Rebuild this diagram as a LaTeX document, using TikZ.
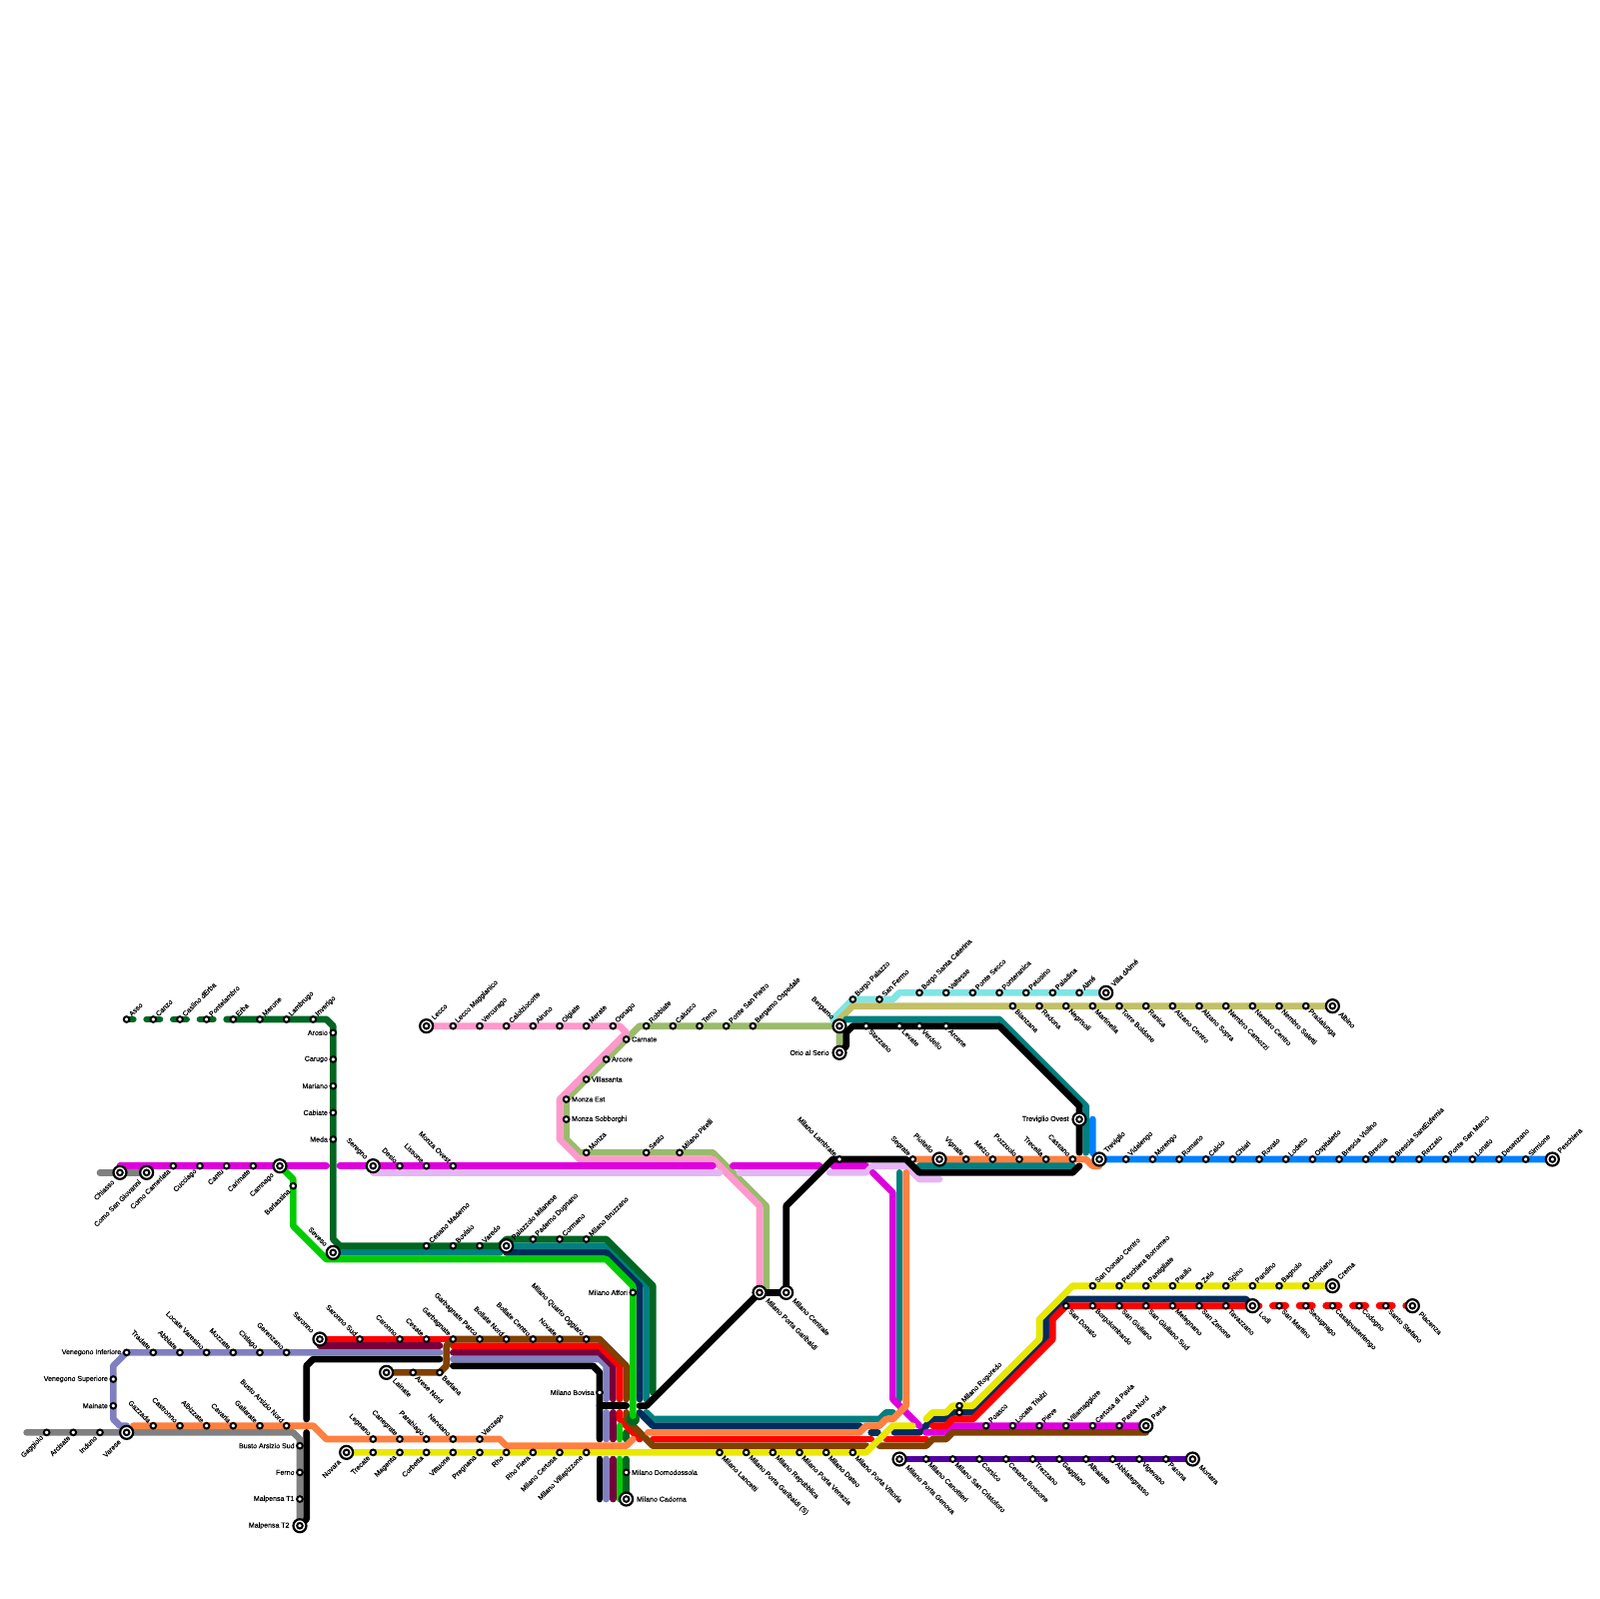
\documentclass[tikz,border=0pt]{standalone}
\usepackage{fontspec}
\setmainfont[FakeBold=0.5]{Liberation Sans}
\usetikzlibrary{backgrounds}
\definecolor{lnpink}{HTML}{FF99CC}
\definecolor{lnsage}{HTML}{9BBB6C}
\definecolor{lnmag}{HTML}{DD00DD}
\definecolor{lnlilac}{HTML}{E5B5F5}
\definecolor{lnforest}{HTML}{006622}
\definecolor{lnteal}{HTML}{008080}
\definecolor{lngreen}{HTML}{00CC00}
\definecolor{lngrey}{HTML}{808080}
\definecolor{lnperi}{HTML}{8080C0}
\definecolor{lnwine}{HTML}{77003C}
\definecolor{lnred}{HTML}{FF0000}
\definecolor{lnbrown}{HTML}{804000}
\definecolor{lnorange}{HTML}{FF8040}
\definecolor{lnyellow}{HTML}{E8E800}
\definecolor{lnnavy}{HTML}{002D5C}
\definecolor{lnblue}{HTML}{0080FF}
\definecolor{lnkhaki}{HTML}{C2C066}
\definecolor{lncyan}{HTML}{80E5E5}
\definecolor{lnviolet}{HTML}{5000A0}
\begin{document}
\begin{tikzpicture}[
    x=1mm, y=-1mm,
    every node/.style={font=\fontsize{3}{3.6}\selectfont, inner sep=0pt},
    route/.style={line width=1mm, line cap=round, line join=round},
    stn/.style={circle, draw=black, fill=white, line width=.3mm, minimum size=.85mm},
    hub/.style={circle, draw=black, fill=white, line width=.33mm, minimum size=1.95mm,
        path picture={\draw[line width=.3mm] (path picture bounding box.center) circle (.42mm);}},
    lblne/.style={xshift=.5mm, yshift=.6mm, rotate=45, anchor=west},
    lblse/.style={xshift=.5mm, yshift=-.6mm, rotate=-45, anchor=west},
    lblsw/.style={xshift=-.6mm, yshift=-.6mm, rotate=45, anchor=east},
    lblnw/.style={xshift=-.5mm, yshift=.6mm, rotate=-45, anchor=east},
    lble/.style={anchor=west, xshift=.75mm},
    lblw/.style={anchor=east, xshift=-.75mm},
    hlblne/.style={xshift=.9mm, yshift=1.1mm, rotate=45, anchor=west},
    hlblse/.style={xshift=1.1mm, yshift=-1mm, rotate=-45, anchor=west},
    hlblsw/.style={xshift=-1mm, yshift=-1.2mm, rotate=45, anchor=east},
    hlblnw/.style={xshift=-1mm, yshift=1.1mm, rotate=-45, anchor=east},
    hlble/.style={anchor=west, xshift=1.5mm},
    hlblw/.style={anchor=east, xshift=-1.5mm}
]
\useasboundingbox (0,0) rectangle (240,240);
% --- Interchanges
\foreach \nm/\x/\y/\dir/\lab in {
    chiasso/18/176/sw/Chiasso, comosg/22/176/sw/Como San Giovanni, camnago/42/175/sw/Camnago,
    seregno/56/175/nw/Seregno, seveso/50/188/nw/Seveso, palazzolo/76/187/ne/Palazzolo Milanese,
    lecco/64/154/ne/Lecco, bergamo/126/154/nw/Bergamo, orio/126/158/w/Orio al Serio,
    villa/166/149/ne/Villa dAlmé, albino/200/151/se/Albino, trevovest/162/168/w/Treviglio Ovest,
    pioltello/141/174/nw/Pioltello, treviglio/165/174/ne/Treviglio, peschiera/233/174/ne/Peschiera,
    garibaldi/114/194/se/Milano Porta Garibaldi, centrale/118/194/se/Milano Centrale,
    saronno/48/201/nw/Saronno, lainate/58/206/se/Lainate, varese/19/215/sw/Varese,
    malpt/45/229/w/Malpensa T2, novara/52/218/sw/Novara, cadorna/94/225/e/Milano Cadorna,
    crema/200/193/ne/Crema, lodi/188/196/se/Lodi, piacenza/212/196/se/Piacenza,
    pavia/172/214/ne/Pavia, genova/135/219/se/Milano Porta Genova, mortara/179/219/se/Mortara} {
  \node[hub] (\nm) at (\x,\y) {};
  \node[hlbl\dir] (\nm-l) at (\nm.center) {\lab};
}
% --- Stations
\foreach \nm/\x/\y/\dir/\lab in {
    asso/19/153/ne/Asso, canzo/23/153/ne/Canzo, caslino/27/153/ne/Caslino dErba,
    pontelambro/31/153/ne/Pontelambro, erba/35/153/ne/Erba, merone/39/153/ne/Merone,
    lambrugo/43/153/ne/Lambrugo, inverigo/47/153/ne/Inverigo,
    arosio/50/155/w/Arosio, carugo/50/159/w/Carugo, mariano/50/163/w/Mariano,
    cabiate/50/167/w/Cabiate, meda/50/171/w/Meda,
    camerlata/26/175/sw/Como Camerlata, cucciago/30/175/sw/Cucciago, cantu/34/175/sw/Cantu,
    carimate/38/175/sw/Carimate, barlassina/44/178/sw/Barlassina,
    desio/60/175/nw/Desio, lissone/64/175/nw/Lissone, monzaov/68/175/nw/Monza Ovest,
    cesano/64/187/ne/Cesano Maderno, bovisio/68/187/ne/Bovisio, varedo/72/187/ne/Varedo,
    paderno/80/186/ne/Paderno Dugnano, cormano/84/186/ne/Cormano, bruzzano/88/186/ne/Milano Bruzzano,
    maggianico/68/154/ne/Lecco Maggianico, vercurago/72/154/ne/Vercurago,
    calolzio/76/154/ne/Calolziocorte, airuno/80/154/ne/Airuno, olgiate/84/154/ne/Olgiate,
    merate/88/154/ne/Merate, osnago/92/154/ne/Osnago,
    robbiate/97/154/ne/Robbiate, calusco/101/154/ne/Calusco, terno/105/154/ne/Terno,
    pontesp/109/154/ne/Ponte San Pietro, ospedale/113/154/ne/Bergamo Ospedale,
    carnate/94/156/e/Carnate, arcore/91/159/e/Arcore, villasanta/88/162/e/Villasanta,
    monzaest/85/165/e/Monza Est, sobborghi/85/168/e/Monza Sobborghi,
    monza/88/173/ne/Monza, sesto/97/173/ne/Sesto, pirelli/102/173/ne/Milano Pirelli,
    palazzo/128/150/ne/Borgo Palazzo, fermo/132/150/ne/San Fermo, caterina/138/149/ne/Borgo Santa Caterina,
    valtesse/142/149/ne/Valtesse, pontesecco/146/149/ne/Ponte Secco, ponteranica/150/149/ne/Ponteranica,
    petosino/154/149/ne/Petosino, paladina/158/149/ne/Paladina, alme/162/149/ne/Almé,
    bianzana/152/151/se/Bianzana, redona/156/151/se/Redona, negrisoli/160/151/se/Negrisoli,
    martinella/164/151/se/Martinella, boldone/168/151/se/Torre Boldone, ranica/172/151/se/Ranica,
    alzanoc/176/151/se/Alzano Centro, alzanos/180/151/se/Alzano Sopra, camozzi/184/151/se/Nembro Camozzi,
    nembroc/188/151/se/Nembro Centro, saletti/192/151/se/Nembro Saletti, pradalunga/196/151/se/Pradalunga,
    stezzano/130/154/se/Stezzano, levate/135/154/se/Levate, verdello/138/154/se/Verdello, arcene/142/154/se/Arcene,
    lambrate/126/174/nw/Milano Lambrate, segrate/137/174/nw/Segrate, vignate/145/174/nw/Vignate,
    melzo/149/174/nw/Melzo, pozzuolo/153/174/nw/Pozzuolo, trecella/157/174/nw/Trecella, cassano/161/174/nw/Cassano,
    vidalengo/169/174/ne/Vidalengo, morengo/173/174/ne/Morengo, romano/177/174/ne/Romano,
    calcio/181/174/ne/Calcio, chiari/185/174/ne/Chiari, rovato/189/174/ne/Rovato,
    lodetto/193/174/ne/Lodetto, ospitaletto/197/174/ne/Ospitaletto, violino/201/174/ne/Brescia Violino,
    brescia/205/174/ne/Brescia, eufemia/209/174/ne/Brescia SantEufemia, rezzato/213/174/ne/Rezzato,
    pontesm/217/174/ne/Ponte San Marco, lonato/221/174/ne/Lonato, desenzano/225/174/ne/Desenzano,
    sirmione/229/174/ne/Sirmione,
    affori/95/194/w/Milano Affori, bovisa/90/209/w/Milano Bovisa,
    domodossola/94/221/e/Milano Domodossola,
    lancetti/108/218/se/Milano Lancetti, garibaldis/112/218/se/Milano Porta Garibaldi (S),
    repubblica/116/218/se/Milano Repubblica, venezia/120/218/se/Milano Porta Venezia,
    dateo/124/218/se/Milano Dateo, vittoria/128/218/se/Milano Porta Vittoria,
    vinf/19/203/w/Venegono Inferiore, vsup/17/207/w/Venegono Superiore, mainate/17/211/w/Mainate,
    tradate/23/203/nw/Tradate, abbiate/27/203/nw/Abbiate, locatev/31/203/nw/Locate Varesino,
    mozzate/35/203/nw/Mozzate, cislago/39/203/nw/Cislago, gerenzano/43/203/nw/Gerenzano,
    saronnos/54/201/nw/Saronno Sud, caronno/60/201/nw/Caronno, cesate/64/201/nw/Cesate,
    garbagnate/68/201/nw/Garbagnate, garbparco/72/201/nw/Garbagnate Parco, bollaten/76/201/nw/Bollate Nord,
    bollatec/80/201/nw/Bollate Centro, novate/84/201/nw/Novate, quarto/88/201/nw/Milano Quarto Oggiaro,
    arese/62/206/se/Arese Nord, barlana/66/206/se/Barlana,
    gazzada/23/214/nw/Gazzada, castronno/27/214/nw/Castronno, albizzate/31/214/nw/Albizzate,
    cavaria/35/214/nw/Cavaria, gallarate/39/214/nw/Gallarate, bustonord/43/214/nw/Busto Arsizio Nord,
    gaggiolo/7/215/sw/Gaggiolo, arcisate/11/215/sw/Arcisate, induno/15/215/sw/Induno,
    bustosud/45/217/w/Busto Arsizio Sud, ferno/45/221/w/Ferno, malpo/45/225/w/Malpensa T1,
    legnano/56/216/nw/Legnano, canegrate/60/216/nw/Canegrate, parabiago/64/216/nw/Parabiago,
    nerviano/68/216/nw/Nerviano, vanzago/72/216/ne/Vanzago,
    trecate/56/218/sw/Trecate, magenta/60/218/sw/Magenta, corbetta/64/218/sw/Corbetta,
    vittuone/68/218/sw/Vittuone, pregnana/72/218/sw/Pregnana, rho/76/218/sw/Rho,
    rhofiera/80/218/sw/Rho Fiera, certosa/84/218/sw/Milano Certosa, villapizzone/88/218/sw/Milano Villapizzone,
    rogoredo/144/211/ne/Milano Rogoredo,
    poasco/148/214/ne/Poasco, locatet/152/214/ne/Locate Triulzi, pieve/156/214/ne/Pieve,
    villamag/160/214/ne/Villamaggiore, certpavia/164/214/ne/Certosa di Pavia, pavianord/168/214/ne/Pavia Nord,
    canottieri/139/219/se/Milano Canottieri, cristoforo/143/219/se/Milano San Cristoforo,
    corsico/147/219/se/Corsico, boscone/151/219/se/Cesano Boscone, trezzano/155/219/se/Trezzano,
    gaggiano/159/219/se/Gaggiano, albairate/163/219/se/Albairate, abbiate2/167/219/se/Abbiategrasso,
    vigevano/171/219/se/Vigevano, parona/175/219/se/Parona,
    sandonato/160/196/se/San Donato, borgolomb/164/196/se/Borgolombardo, giuliano/168/196/se/San Giuliano,
    giulianos/172/196/se/San Giuliano Sud, melegnano/176/196/se/Melegnano, zenone/180/196/se/San Zenone,
    tavazzano/184/196/se/Tavazzano, martino/192/196/se/San Martino, secugnago/196/196/se/Secugnago,
    casal/200/196/se/Casalpusterlengo, codogno/204/196/se/Codogno, stefano/208/196/se/Santo Stefano,
    sdcentro/164/193/ne/San Donato Centro, borromeo/168/193/ne/Peschiera Borromeo, pantigliate/172/193/ne/Pantigliate,
    paullo/176/193/ne/Paullo, zelo/180/193/ne/Zelo, spino/184/193/ne/Spino,
    pandino/188/193/ne/Pandino, bagnolo/192/193/ne/Bagnolo, ombriano/196/193/ne/Ombriano} {
  \node[stn] (\nm) at (\x,\y) {};
  \node[lbl\dir] (\nm-l) at (\nm.center) {\lab};
}
\node[stn] (rogoredob) at (144,212) {};
\begin{scope}[on background layer]
% --- North-east branches
\draw[route, lncyan] (125,153) -- (palazzo.center) -- (134,150) -- (135,149) -- (villa.center);
\draw[route, lnkhaki] (126,153) -- (128,151) -- (albino.center);
\draw[route, lnsage] (orio.center) -- (bergamo.center) -- (96,154) -- (85,165) -- (85,171) -- (87,173) -- (107,173) -- (115,181) -- (115,194);
\draw[route, lnpink] (lecco.center) -- (93,154) -- (94,155) -- (84,165) -- (84,171) -- (87,174) -- (107,174) -- (114,181) -- (garibaldi.center);
% --- Como and Seregno
\draw[route, lngrey] ([xshift=-3mm]chiasso.center) -- (comosg.center);
\draw[route, lnmag] (18,175) -- (49,175);
\draw[route, lnmag] (51,175) -- (107,175);
\draw[route, lnmag] (110,175) -- (123,175);
\draw[route, lnmag] (125,175) -- (130,175);
\draw[route, lnlilac] ([yshift=-1mm]seregno.center) -- (108,176);
\draw[route, lnlilac] (111,176) -- (123,176);
\draw[route, lnlilac] (124.5,176) -- (130,176) -- (131,175) -- (136,175) -- (138,177) -- (141,177);
% --- Teal
\draw[route, lnteal] (127,153) -- (150,153) -- (163,166) -- (163,173);
\draw[route, lnteal] (138,175) -- (161,175);
\draw[route, lnteal] (seveso.center) -- (75,188) -- (76,187) -- (91,187) -- (97,193) -- (97,210);
\draw[route, lnteal] (135,176) -- (135,210);
\draw[route, lnteal] (134,212) -- (133,212) -- (132,213) -- (98,213) -- (97,212);
% --- Navy
\draw[route, lnnavy] (palazzolo.center) -- (76,188) -- (91,188) -- (96,193) -- (96,210);
\draw[route, lnnavy] (96,212) -- (98,214) -- (129,214);
\draw[route, lnnavy] (130.75,215) -- (131.75,215);
\draw[route, lnnavy] (134.25,215) -- (138,215) -- (140,213) -- (142,213) -- (143,212) -- (146,212) -- (157,201) -- (157,198) -- (160,195) -- (187,195) -- (lodi.center);
% --- Dark green, dashed part first
\draw[route, lnforest] (asso.center) -- ([xshift=1mm]asso.center);
\foreach \nm in {canzo, caslino, pontelambro} {
  \draw[route, lnforest] ([xshift=-1mm]\nm.center) -- ([xshift=1mm]\nm.center);
}
\draw[route, lnforest] ([xshift=-1mm]erba.center) -- (49,153) -- (50,154) -- (50,186) -- (51,187) -- (75,187) -- (76,186) -- (91,186) -- (98,193) -- (98,209);
\draw[route, lnforest] (94,215) -- (94,216);
\draw[route, lnforest] (94,219) -- (cadorna.center);
% --- Magenta south of Lambrate
\draw[route, lnmag] (131,176) -- (134,179) -- (134,210) -- (138,214);
\draw[route, lnmag] (139,215) -- (142,215) -- (143,214) -- (pavia.center);
% --- Black
\draw[route, black] (centrale.center) -- (118,181) -- (125,174) -- (136,174) -- (138,176) -- (161,176) -- (162,175);
\draw[route, black] (garibaldi.center) -- (centrale.center);
\draw[route, black] (orio.center) -- (127,157) -- (127,155) -- (128,154) -- (150,154) -- (162,166) -- (162,173);
\draw[route, black] (garibaldi.center) -- (97,211) -- (96,211);
\draw[route, black] (90,211) -- (94,211);
\draw[route, black] (66,204) -- (47,204) -- (46,205) -- (46,213);
\draw[route, black] (46,215) -- (46,228) -- (malpt.center);
\draw[route, black] (68,205) -- (89,205) -- (90,206) -- (90,216);
\draw[route, black] (90,219) -- (90,225);
% --- Grey and periwinkle
\draw[route, lngrey] ([xshift=-3mm]gaggiolo.center) -- (44,215) -- (45,216) -- (malpt.center);
\draw[route, lnperi] (66,203) -- (vinf.center) -- (17,205) -- (17,213) -- (18,214) -- (19,214) -- (varese.center);
\draw[route, lnperi] (68,204) -- (90,204) -- (91,205) -- (91,210);
\draw[route, lnperi] (91,212) -- (91,216);
\draw[route, lnperi] (91,219) -- (91,225);
% --- Wine
\draw[route, lnwine] (48,202) -- (66,202);
\draw[route, lnwine] (68,203) -- (90,203) -- (92,205) -- (92,210);
\draw[route, lnwine] (92,212) -- (92,216);
\draw[route, lnwine] (92,219) -- (92,225);
% --- Red
\draw[route, lnred] (saronno.center) -- (garbagnate.center);
\draw[route, lnred] (68,202) -- (90,202) -- (93,205) -- (93,210);
\draw[route, lnred] (93,212) -- (93,213) -- (96,216);
\draw[route, lnred] (98,216) -- (130.75,216);
\draw[route, lnred] (133,216) -- (139,216);
\draw[route, lnred] (140,214) -- (142,214) -- (143,213) -- (146,213) -- (158,201) -- (158,198) -- (sandonato.center) -- (lodi.center) -- ([xshift=1mm]lodi.center);
\foreach \nm in {martino, secugnago, casal, codogno, stefano} {
  \draw[route, lnred] ([xshift=-1mm]\nm.center) -- ([xshift=1mm]\nm.center);
}
\draw[route, lnred] ([xshift=-1mm]piacenza.center) -- (piacenza.center);
% --- Brown
\draw[route, lnbrown] (lainate.center) -- (barlana.center) -- (67,205) -- (67,202) -- (garbagnate.center) -- (90,201) -- (94,205) -- (94,210);
\draw[route, lnbrown] (94,212) -- (94,213) -- (98,217) -- (130,217);
\draw[route, lnbrown] (132,217) -- (139,217) -- (140,216) -- (142,216) -- (143,215) -- (172,215);
% --- Orange
\draw[route, lnorange] (20,214) -- (47,214) -- (49,216) -- (75,216) -- (76,217) -- (94,217) -- (95,216);
\draw[route, lnorange] (segrate.center) -- (163,174) -- (164,175) -- (165,175);
\draw[route, lnorange] (136,176) -- (136,211) -- (134,213) -- (133,213) -- (132,214) -- (130,214) -- (129,215) -- (97.25,215);
% --- Yellow
\draw[route, lnyellow] (novara.center) -- (130,218) -- (134,214) -- (137,214);
\draw[route, lnyellow] (139,213) -- (140,212) -- (142,212) -- (143,211) -- (146,211) -- (156,201) -- (156,198) -- (161,193) -- (crema.center);
% --- Blue and violet
\draw[route, lnblue] (164,168) -- (164,173) -- (treviglio.center) -- (peschiera.center);
\draw[route, lnviolet] (genova.center) -- (mortara.center);
% --- Bright green
\node[circle, fill=lnforest, minimum size=2mm] (cadornajct) at (95,213) {};
\draw[route, lngreen] (camnago.center) -- (44,177) -- (44,184) -- (49,189) -- (91,189) -- (95,193) -- (95,212.5);
\draw[route, lngreen] (93,214) -- (93,216);
\draw[route, lngreen] (93,219) -- (93,225);
\end{scope}
\end{tikzpicture}
\end{document}
